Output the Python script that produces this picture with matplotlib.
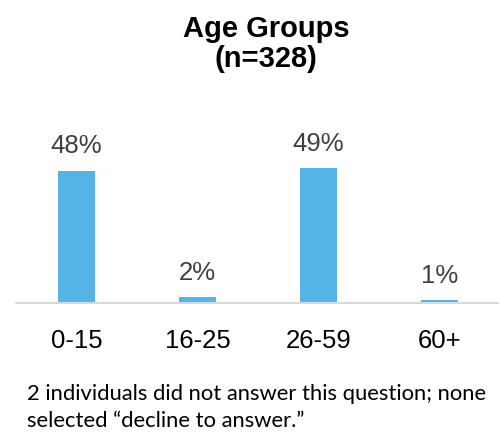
import matplotlib
matplotlib.use("Agg")
import matplotlib.pyplot as plt

categories = ["0-15", "16-25", "26-59", "60+"]
values = [48, 2, 49, 1]
value_labels = ["48%", "2%", "49%", "1%"]
title_line1 = "Age Groups"
title_line2 = "(n=328)"
footnote_lines = ["2 individuals did not answer this question; none",
                  "selected \u201cdecline to answer.\u201d"]

W, H = 499, 432
fig = plt.figure(figsize=(W / 100, H / 100), dpi=100)
fig.patch.set_facecolor("white")

ymax = 55
ax_h_px = ymax * 2.76
ax_bottom_px = 303
ax = fig.add_axes([16 / W, (H - ax_bottom_px) / H, 484 / W, ax_h_px / H])

x = list(range(len(categories)))
bars = ax.bar(x, values, width=0.31, color="#55B3E6", zorder=2)
ax.set_xlim(-0.5, len(categories) - 0.5)
ax.set_ylim(0, ymax)

for xi, v, lab in zip(x, values, value_labels):
    ax.annotate(lab, (xi, v), xytext=(0, 12.3), textcoords="offset points",
                ha="center", va="baseline", fontsize=18.5, color="#404040",
                family="Liberation Sans")

for s in ["top", "right", "left"]:
    ax.spines[s].set_visible(False)
ax.spines["bottom"].set_color("#D9D9D9")
ax.spines["bottom"].set_linewidth(1.5)
ax.set_yticks([])
ax.set_xticks(x)
ax.set_xticklabels(categories, fontsize=18.5, family="Liberation Sans", color="black")
ax.tick_params(axis="x", length=0, pad=18.5)

fig.text(266 / W, 1 - 37 / H, title_line1, ha="center", va="baseline",
         fontsize=21, fontweight="bold", family="Liberation Sans")
fig.text(266 / W, 1 - 67 / H, title_line2, ha="center", va="baseline",
         fontsize=21, fontweight="bold", family="Liberation Sans")

for i, line in enumerate(footnote_lines):
    fig.text(27 / W, 1 - (400 + 27 * i) / H, line, ha="left", va="baseline",
             fontsize=15.85, family="Lato", color="black")

fig.savefig("out.png", dpi=100)
